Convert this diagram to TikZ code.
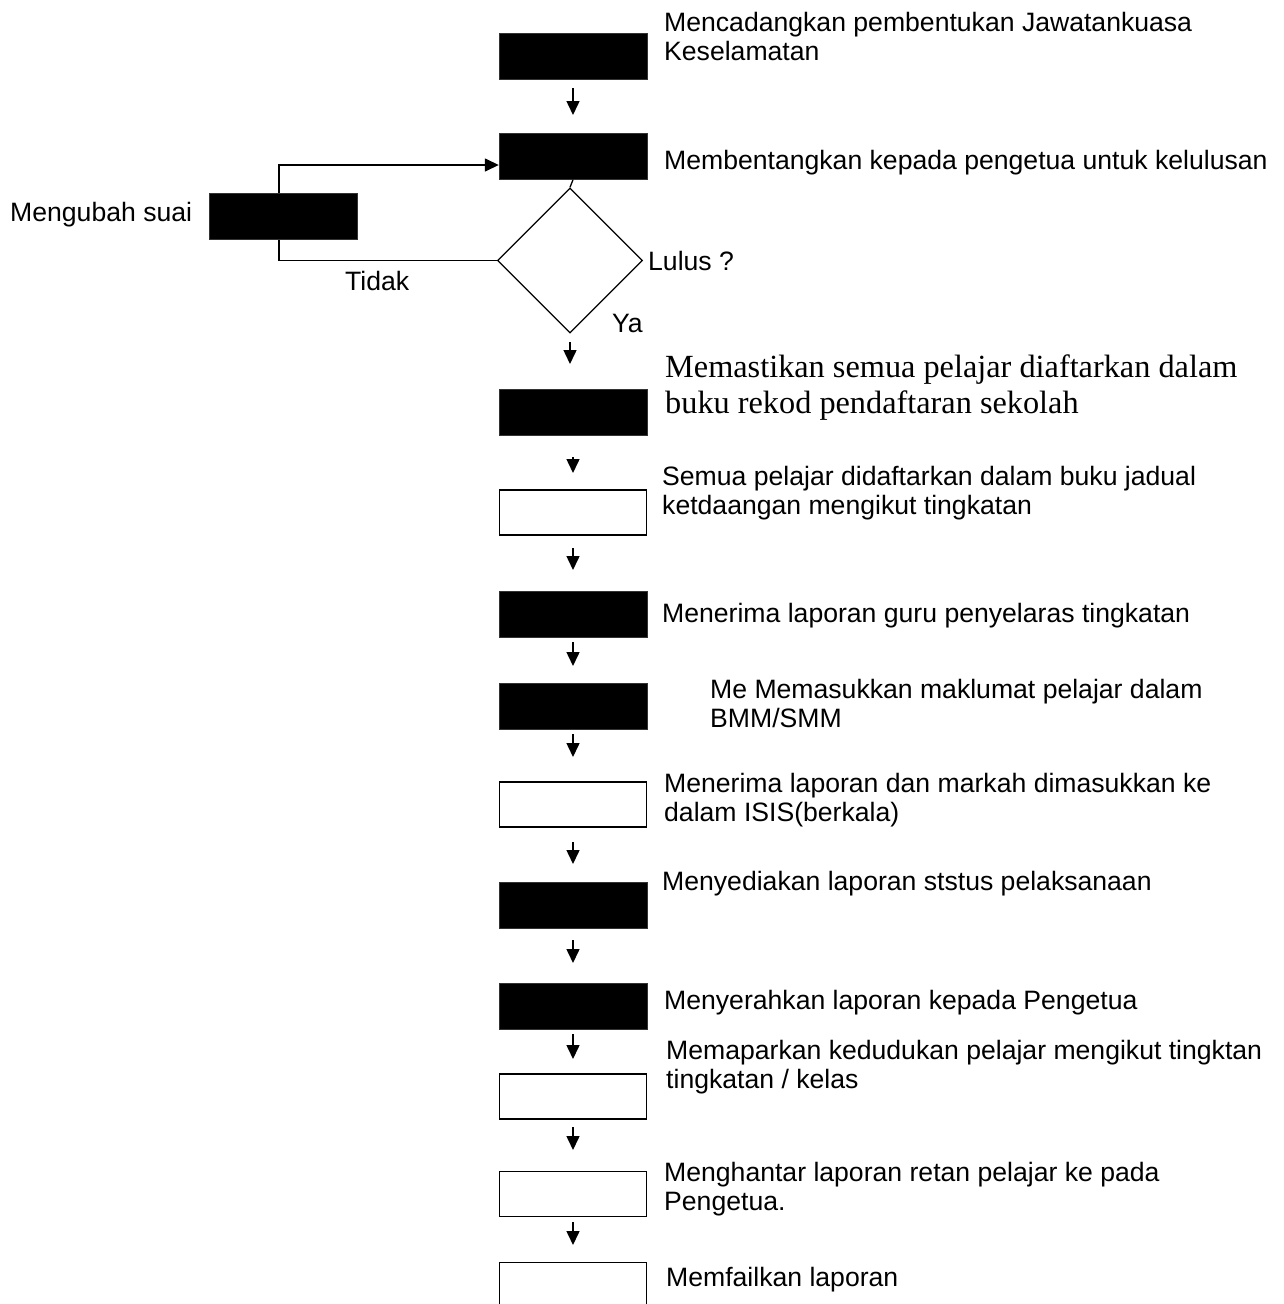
\documentclass[tikz,border=0pt]{standalone}
\usepackage{fontspec}
\setmainfont{Liberation Sans}
\newfontfamily\timesfont{Liberation Serif}
\usetikzlibrary{shapes.geometric,arrows.meta}

\begin{document}
\begin{tikzpicture}[x=1pt,y=-1pt,
  blackbox/.style={draw=black!80,fill=black,minimum width=148pt,minimum height=46pt,inner sep=0},
  whitebox/.style={draw,line width=1.5pt,fill=white,minimum width=147pt,minimum height=45pt,inner sep=0},
  lbl/.style={anchor=west,align=left,inner sep=0,font=\fontsize{26.6}{29}\selectfont},
  flow/.style={line width=1.5pt,-{Triangle[length=14pt,width=13pt]}}]
\useasboundingbox (0,0) rectangle (1284,1304);

% Boxes of the flow
\foreach \name/\y/\sty in {b1/56.5/blackbox, b2/156.5/blackbox, b3/412/blackbox,
  b4/512.5/whitebox, b5/614.5/blackbox, b6/706/blackbox, b7/804.5/whitebox,
  b8/905/blackbox, b9/1006.5/blackbox, b10/1096.5/whitebox, b11/1194/whitebox,
  b12/1285/whitebox}
  \node[\sty] (\name) at (573,\y) {};

% Decision and the loop back
\node[diamond,draw,line width=1.3pt,minimum width=145pt,minimum height=145pt,inner sep=0] (lulus) at (570,260.5) {};
\draw[line width=1.3pt] (b2.south) -- (lulus.north);
\coordinate (turn) at (279,260.5);
\draw[flow] (lulus.west) -- (turn) |- ([yshift=-8.5pt]b2.west);
\node[blackbox] (ubah) at (283,216) {};

% Short arrows between the steps
\foreach \src/\ys/\ye in {b1/88/115, lulus/342/364, b3/457/473, b4/548/570,
  b5/642/666, b6/734/757, b7/842/864, b8/940/963, b9/1034/1059,
  b10/1127/1150, b11/1222/1245}
  \draw[flow] (\src.south |- 0,\ys) -- (\src.south |- 0,\ye);

% Labels
\node[lbl] (ubahlbl) at (10,215) {Mengubah suai};
\node[lbl] (tidak) at (345,281) {Tidak};
\node[lbl] (luluslbl) at (648,261) {Lulus ?};
\node[lbl] (ya) at (612,323) {Ya};
\node[lbl] (t1) at (664,36) {Mencadangkan pembentukan Jawatankuasa\\Keselamatan};
\node[lbl] (t2) at (664,163) {Membentangkan kepada pengetua untuk kelulusan};
\node[lbl,font=\timesfont\fontsize{32.3}{36}\selectfont] (t3) at (665,388) {Memastikan semua pelajar diaftarkan dalam\\buku rekod pendaftaran sekolah};
\node[lbl] (t4) at (662,493) {Semua pelajar didaftarkan dalam buku jadual\\ketdaangan mengikut tingkatan};
\node[lbl] (t5) at (662,616) {Menerima laporan guru penyelaras tingkatan};
\node[lbl] (t6) at (710,703) {Me Memasukkan maklumat pelajar dalam\\BMM/SMM};
\node[lbl] (t7) at (664,800) {Menerima laporan dan markah dimasukkan ke\\dalam ISIS(berkala)};
\node[lbl] (t8) at (662,884) {Menyediakan laporan ststus pelaksanaan};
\node[lbl] (t9) at (664,1003) {Menyerahkan laporan kepada Pengetua};
\node[lbl] (t10) at (666,1067) {Memaparkan kedudukan pelajar mengikut tingktan\\tingkatan / kelas};
\node[lbl] (t11) at (664,1189) {Menghantar laporan retan pelajar ke pada\\Pengetua.};
\node[lbl] (t12) at (666,1280) {Memfailkan laporan};

\end{tikzpicture}
\end{document}
